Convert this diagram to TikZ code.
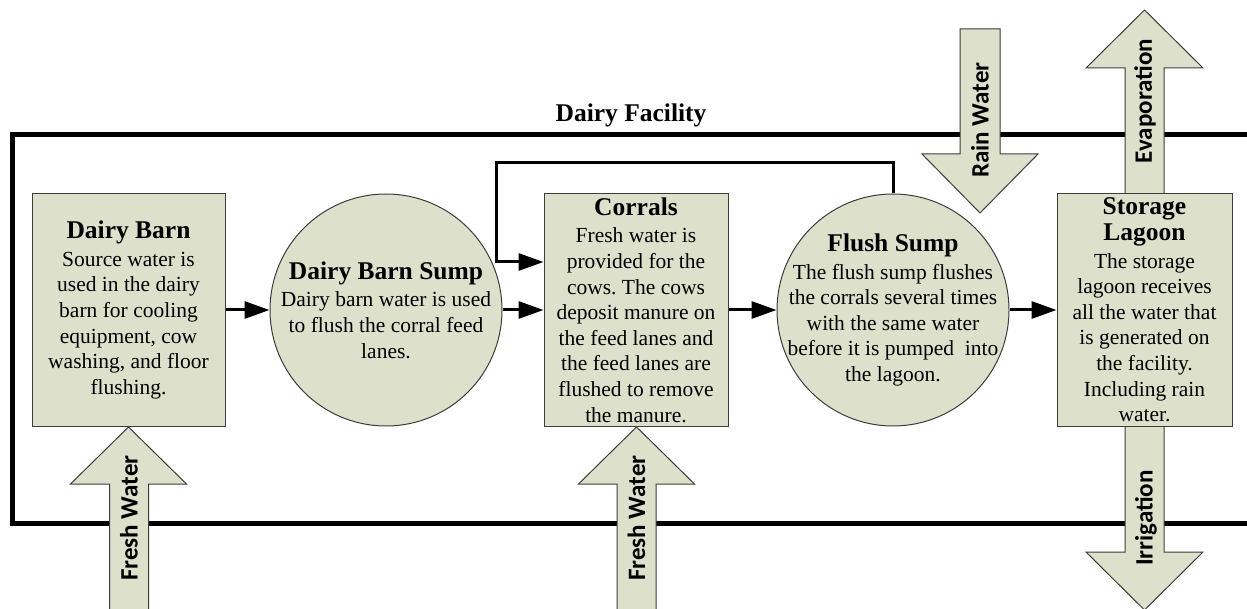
\documentclass[tikz,border=0pt]{standalone}
\usepackage{fontspec}
\setmainfont{Liberation Serif}
\newfontfamily\labelfont{Carlito}
\usetikzlibrary{arrows.meta}
\definecolor{boxfill}{RGB}{221,224,203}
\definecolor{boxline}{RGB}{60,60,60}
\newcommand\boxtitle[1]{{\fontsize{25.5}{25.6}\selectfont\bfseries #1}}
\frenchspacing
\begin{document}
\begin{tikzpicture}[x=1pt,y=-1pt,
  shapebox/.style={draw=boxline, line width=1pt, fill=boxfill, inner sep=0pt, rectangle},
  shapecirc/.style={draw=boxline, line width=1pt, fill=boxfill, inner sep=0pt, circle, minimum size=232pt},
  bodytext/.style={align=center, inner sep=0pt, font=\frenchspacing\fontsize{21.5}{25.6}\selectfont},
  flow/.style={line width=3pt, line join=miter, -{Triangle[length=25pt,width=17pt]}},
  blockarrow/.style={draw=boxline, line width=1pt, fill=boxfill, line join=miter},
  arrowlabel/.style={font=\labelfont\bfseries\fontsize{25}{25}\selectfont, rotate=90, inner sep=0pt}
]
\clip (0,0) rectangle (1247,609);
% facility frame
\draw[line width=5pt, line join=miter] (1270,135) -- (12.5,135) -- (12.5,523) -- (1270,523);
\node[font=\bfseries\fontsize{25.5}{26}\selectfont, inner sep=0pt] (facility) at (631,115) {Dairy Facility};

% block arrows
\filldraw[blockarrow] (109.5,630) -- (109.5,484) -- (70.5,484) -- (128.5,427) -- (186.5,484) -- (148.5,484) -- (148.5,630) -- cycle;
\filldraw[blockarrow] (617,630) -- (617,484) -- (578.5,484) -- (636.5,427) -- (694.5,484) -- (656,484) -- (656,630) -- cycle;
\filldraw[blockarrow] (960,29) -- (1000,29) -- (1000,154) -- (1038,154) -- (980,213) -- (922,154) -- (960,154) -- cycle;
\filldraw[blockarrow] (1125,200) -- (1125,68) -- (1086,68) -- (1144.5,10) -- (1203,68) -- (1164,68) -- (1164,200) -- cycle;
\filldraw[blockarrow] (1125,420) -- (1125,552) -- (1086,552) -- (1144.5,610) -- (1203,552) -- (1164,552) -- (1164,420) -- cycle;

% process nodes
\node[shapebox, minimum width=193pt, minimum height=233pt] (barn) at (128.5,310) {};
\node[shapecirc] (bsump) at (386,310) {};
\node[shapebox, minimum width=184pt, minimum height=233pt] (corrals) at (636,310) {};
\node[shapecirc] (fsump) at (893,310) {};
\node[shapebox, minimum width=175pt, minimum height=233pt] (lagoon) at (1144.5,310) {};

% connectors
\coordinate (looptop) at (496,163);
\draw[flow] (barn) -- (bsump);
\draw[flow] (bsump) -- (corrals);
\draw[flow] (corrals) -- (fsump);
\draw[flow] (fsump) -- (lagoon);
\draw[flow] (fsump.north) |- (looptop) |- ([yshift=48pt]corrals.west);

% texts
\node[bodytext] (barn-t) at (barn.center) {\boxtitle{Dairy Barn}\\[2pt] Source water is\\ used in the dairy\\ barn for cooling\\ equipment, cow\\ washing, and floor\\ flushing.};
\node[bodytext] (bsump-t) at (bsump.center) {\boxtitle{Dairy Barn Sump}\\[2pt] Dairy barn water is used\\ to flush the corral feed\\ lanes.};
\node[bodytext] (corrals-t) at (corrals.center) {\boxtitle{Corrals}\\[2pt] Fresh water is\\ provided for the\\ cows. The cows\\ deposit manure on\\ the feed lanes and\\ the feed lanes are\\ flushed to remove\\ the manure.};
\node[bodytext] (fsump-t) at (fsump.center) {\boxtitle{Flush Sump}\\[2pt] The flush sump flushes\\ the corrals several times\\ with the same water\\ before it is pumped~ into\\ the lagoon.};
\node[bodytext] (lagoon-t) at (lagoon.center) {\boxtitle{Storage}\\ \boxtitle{Lagoon}\\[2pt] The storage\\ lagoon receives\\ all the water that\\ is generated on\\ the facility.\\ Including rain\\ water.};

% arrow labels
\node[arrowlabel] (fw1) at (129,518) {Fresh Water};
\node[arrowlabel] (fw2) at (636.5,518) {Fresh Water};
\node[arrowlabel] (rain) at (980,120) {Rain Water};
\node[arrowlabel] (evap) at (1145,101) {Evaporation};
\node[arrowlabel] (irr) at (1146,518) {Irrigation};
\end{tikzpicture}
\end{document}
